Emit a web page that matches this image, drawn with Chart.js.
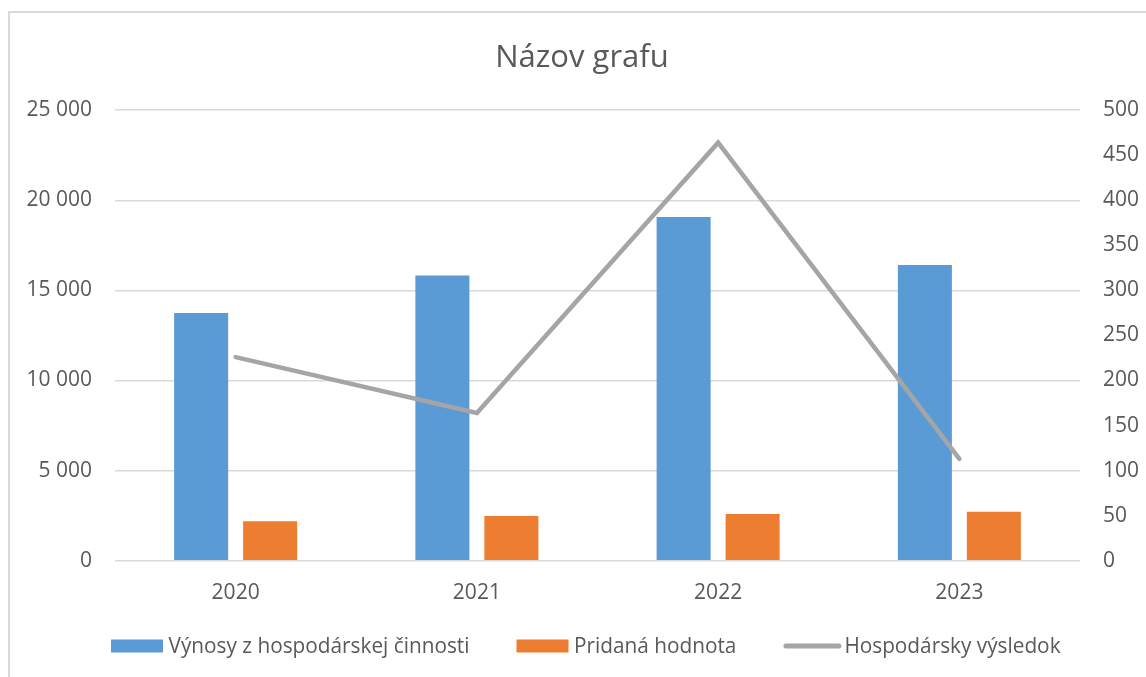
<!DOCTYPE html>
<html>
<head>
<meta charset="utf-8">
<script src="https://cdn.jsdelivr.net/npm/chart.js@4.4.1/dist/chart.umd.min.js"></script>
<style>
  html, body { margin: 0; padding: 0; background: #fff; }
  #c { display: block; }
</style>
</head>
<body>
<canvas id="c" width="1146" height="677"></canvas>
<script>
const categories = ['2020', '2021', '2022', '2023'];
const vynosy = [13750, 15820, 19080, 16410];
const pridanaHodnota = [2190, 2480, 2590, 2720];
const hospVysledok = [226, 164, 464, 113];
const leftTicks = [0, 5000, 10000, 15000, 20000, 25000];
const rightTicks = [0, 50, 100, 150, 200, 250, 300, 350, 400, 450, 500];

const seriesNames = ['Výnosy z hospodárskej činnosti', 'Pridaná hodnota', 'Hospodársky výsledok'];
const COLORS = { blue: '#5B9BD5', orange: '#ED7D31', gray: '#A5A5A5', grid: '#D9D9D9', text: '#595959' };
const FONT = '"Open Sans", "DejaVu Sans", sans-serif';

function fmt(v) { return String(v).replace(/\B(?=(\d{3})+(?!\d))/g, ' '); }

const framePlugin = {
  id: 'frame',
  beforeDraw(chart) {
    const ctx = chart.ctx;
    ctx.save();
    ctx.fillStyle = '#fff';
    ctx.fillRect(0, 0, chart.width, chart.height);
    ctx.strokeStyle = COLORS.grid;
    ctx.lineWidth = 2;
    ctx.beginPath();
    ctx.moveTo(9, chart.height);
    ctx.lineTo(9, 12);
    ctx.lineTo(chart.width, 12);
    ctx.stroke();
    ctx.restore();
  }
};

const legendPlugin = {
  id: 'customLegend',
  afterDraw(chart) {
    const ctx = chart.ctx;
    ctx.save();
    ctx.font = '21px ' + FONT;
    ctx.textBaseline = 'middle';
    const sx = 301 / ctx.measureText(seriesNames[0]).width;
    const y = 646;
    let x = 111;
    const ds = chart.data.datasets;
    ds.forEach((d, i) => {
      const isLine = d.type === 'line';
      const symW = isLine ? 58 : 52;
      if (isLine) {
        ctx.strokeStyle = d.borderColor;
        ctx.lineWidth = 5;
        ctx.lineCap = 'round';
        ctx.beginPath();
        ctx.moveTo(x + 2.5, y);
        ctx.lineTo(x + symW - 2.5, y);
        ctx.stroke();
      } else {
        ctx.fillStyle = d.backgroundColor;
        ctx.fillRect(x, y - 6.5, symW, 13);
      }
      x += symW + (isLine ? 3 : 5.5);
      const w = ctx.measureText(d.label).width * sx;
      ctx.save();
      ctx.translate(x, y);
      ctx.scale(sx, 1);
      ctx.fillStyle = COLORS.text;
      ctx.fillText(d.label, 0, 1);
      ctx.restore();
      x += w + 47;
    });
    ctx.restore();
  }
};

new Chart(document.getElementById('c'), {
  data: {
    labels: categories,
    datasets: [
      { type: 'bar', label: seriesNames[0], data: vynosy, backgroundColor: COLORS.blue, yAxisID: 'y', order: 1,
        barPercentage: 0.783, categoryPercentage: 0.572 },
      { type: 'bar', label: seriesNames[1], data: pridanaHodnota, backgroundColor: COLORS.orange, yAxisID: 'y', order: 1,
        barPercentage: 0.783, categoryPercentage: 0.572 },
      { type: 'line', label: seriesNames[2], data: hospVysledok, borderColor: COLORS.gray, backgroundColor: COLORS.gray,
        borderWidth: 4.5, borderCapStyle: 'round', borderJoinStyle: 'miter', pointRadius: 0, tension: 0, yAxisID: 'y1', order: 0 }
    ]
  },
  options: {
    responsive: false,
    animation: false,
    layout: { padding: { left: 18, right: 0, top: 0, bottom: 0 } },
    plugins: {
      legend: { display: false },
      tooltip: { enabled: false },
      title: {
        display: true,
        text: 'Názov grafu',
        color: COLORS.text,
        font: { family: FONT, size: 31, weight: 'normal' },
        padding: { top: 40, bottom: 33 }
      }
    },
    scales: {
      x: {
        grid: { display: false, drawTicks: false },
        border: { display: false },
        ticks: { color: COLORS.text, font: { family: FONT, size: 21 }, padding: 20, maxRotation: 0 },
        afterFit(s) { s.height = 116.3; }
      },
      y: {
        position: 'left',
        min: 0, max: 25000,
        afterBuildTicks(s) { s.ticks = leftTicks.map(v => ({ value: v })); },
        grid: { color: COLORS.grid, lineWidth: 1.5, drawTicks: false },
        border: { display: false },
        ticks: { color: COLORS.text, font: { family: FONT, size: 21 }, padding: 23, callback: v => fmt(v) },
        afterFit(s) { s.width = 97; }
      },
      y1: {
        position: 'right',
        min: 0, max: 500,
        afterBuildTicks(s) { s.ticks = rightTicks.map(v => ({ value: v })); },
        grid: { display: false, drawTicks: false },
        border: { display: false },
        ticks: { color: COLORS.text, font: { family: FONT, size: 21 }, padding: 23, callback: v => fmt(v) },
        afterFit(s) { s.width = 66; }
      }
    }
  },
  plugins: [framePlugin, legendPlugin]
});
</script>
</body>
</html>
